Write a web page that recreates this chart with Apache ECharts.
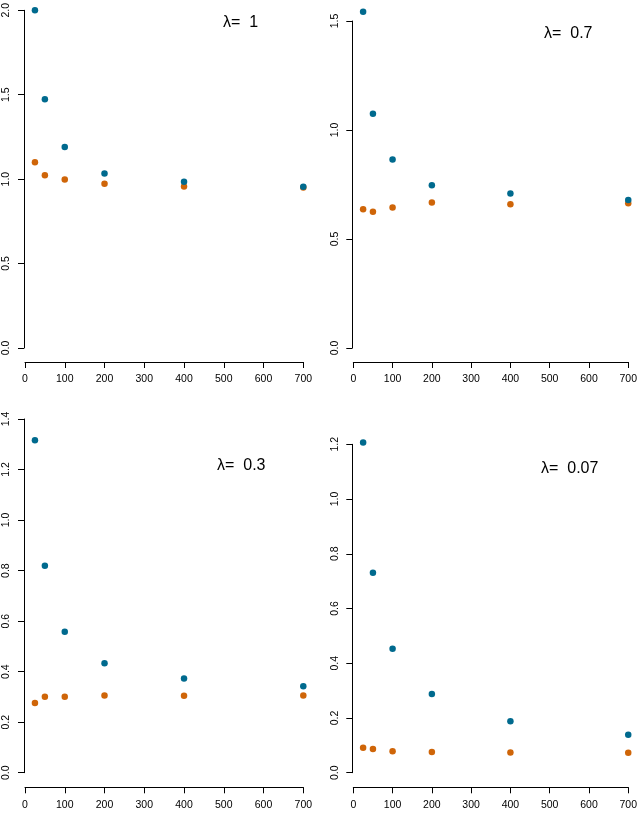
<!DOCTYPE html>
<html>
<head>
<meta charset="utf-8">
<script src="https://cdn.jsdelivr.net/npm/echarts@6/dist/echarts.min.js"></script>
<style>
html,body{margin:0;padding:0;background:#fff;}
#chart{width:640px;height:813px;}
</style>
</head>
<body>
<div id="chart"></div>
<script>
// ---- data ----
var nValues = [25, 50, 100, 200, 400, 700];
var xTicks = [0, 100, 200, 300, 400, 500, 600, 700];
var lambdaLabels = ['1', '0.7', '0.3', '0.07'];
var lambda1Blue   = [2.000, 1.473, 1.191, 1.033, 0.984, 0.955];
var lambda1Orange = [1.100, 1.023, 0.998, 0.973, 0.957, 0.951];
var lambda07Blue   = [1.543, 1.075, 0.865, 0.746, 0.709, 0.679];
var lambda07Orange = [0.636, 0.625, 0.645, 0.667, 0.659, 0.664];
var lambda03Blue   = [1.316, 0.819, 0.558, 0.433, 0.373, 0.342];
var lambda03Orange = [0.276, 0.301, 0.301, 0.306, 0.305, 0.306];
var lambda007Blue   = [1.207, 0.731, 0.453, 0.288, 0.188, 0.139];
var lambda007Orange = [0.091, 0.087, 0.078, 0.076, 0.074, 0.073];
var yMaxes = [2.0, 1.5, 1.4, 1.2];
var yIntervals = [0.5, 0.5, 0.2, 0.2];

var blueColor = '#006A8E';
var orangeColor = '#CF6508';
var fontFam = 'Liberation Sans, Arial, sans-serif';

var panels = [
  {blue: lambda1Blue, orange: lambda1Orange, grid: {left: 25, top: 6.7, width: 278.3, height: 341.3}, xOff: 14, label: [223, 24]},
  {blue: lambda07Blue, orange: lambda07Orange, grid: {left: 353.3, top: 21, width: 278.3, height: 327}, xOff: 14, label: [544, 35]},
  {blue: lambda03Blue, orange: lambda03Orange, grid: {left: 25, top: 419, width: 278.3, height: 353.7}, xOff: 14.6, label: [217, 467]},
  {blue: lambda007Blue, orange: lambda007Orange, grid: {left: 353.3, top: 444.3, width: 278.3, height: 328.4}, xOff: 14.6, label: [541, 470]}
];

function pairs(xs, ys) {
  return xs.map(function (x, i) { return [x, ys[i]]; });
}

var grids = [], xAxes = [], yAxes = [], series = [], graphics = [];
panels.forEach(function (p, i) {
  grids.push({left: p.grid.left, top: p.grid.top, width: p.grid.width, height: p.grid.height, containLabel: false});
  xAxes.push({
    type: 'value', gridIndex: i, min: xTicks[0], max: xTicks[xTicks.length - 1], interval: 100,
    offset: p.xOff,
    axisLine: {show: true, onZero: false, lineStyle: {color: '#000', width: 1}},
    axisTick: {show: true, length: 6, lineStyle: {color: '#000', width: 1}},
    axisLabel: {show: true, color: '#000', fontSize: 10.5, fontFamily: fontFam, margin: 12, hideOverlap: false},
    splitLine: {show: false}
  });
  yAxes.push({
    type: 'value', gridIndex: i, min: 0, max: yMaxes[i], interval: yIntervals[i],
    offset: 1,
    axisLine: {show: true, onZero: false, lineStyle: {color: '#000', width: 1}},
    axisTick: {show: true, length: 6, lineStyle: {color: '#000', width: 1}},
    axisLabel: {show: true, color: '#000', fontSize: 10.5, fontFamily: fontFam, rotate: 90, margin: 12,
      formatter: function (v) { return v.toFixed(1); }},
    splitLine: {show: false}
  });
  series.push({
    type: 'scatter', xAxisIndex: i, yAxisIndex: i, data: pairs(nValues, p.orange),
    symbol: 'circle', symbolSize: 6.5, clip: false, itemStyle: {color: orangeColor, opacity: 1}, silent: true
  });
  series.push({
    type: 'scatter', xAxisIndex: i, yAxisIndex: i, data: pairs(nValues, p.blue),
    symbol: 'circle', symbolSize: 6.5, clip: false, itemStyle: {color: blueColor, opacity: 1}, silent: true
  });
  graphics.push({
    type: 'text', left: p.label[0], top: p.label[1] - 9,
    style: {text: 'λ=  ' + lambdaLabels[i], font: '16px ' + fontFam, fill: '#000'}
  });
});

var chart = echarts.init(document.getElementById('chart'), null, {renderer: 'canvas'});
chart.setOption({
  animation: false,
  backgroundColor: '#fff',
  grid: grids,
  xAxis: xAxes,
  yAxis: yAxes,
  series: series,
  graphic: graphics
});
</script>
</body>
</html>
